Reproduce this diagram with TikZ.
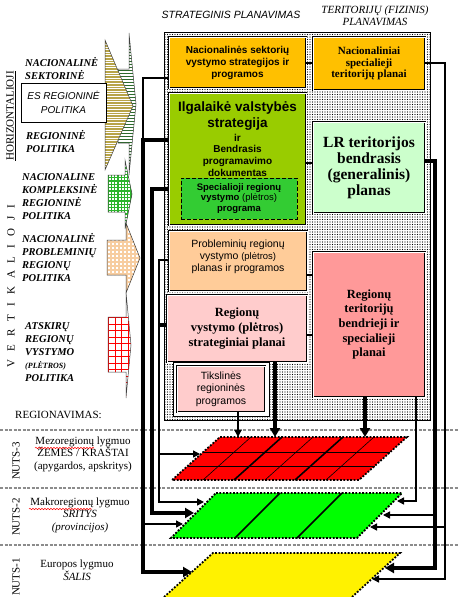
\documentclass[tikz,border=0pt]{standalone}
\usepackage{fontspec}
\setmainfont{Liberation Serif}
\setsansfont{Liberation Sans}
\usetikzlibrary{arrows.meta,patterns.meta,decorations.pathmorphing}
\definecolor{cgold}{HTML}{FFC000}
\definecolor{cygreen}{HTML}{99CC00}
\definecolor{csgreen}{HTML}{33CC33}
\definecolor{clgreen}{HTML}{CCFFCC}
\definecolor{cpeach}{HTML}{FFCC99}
\definecolor{cpink}{HTML}{FFCCCC}
\definecolor{csalmon}{HTML}{FF9999}
\definecolor{ckhaki}{HTML}{B8A448}
\definecolor{cstripe}{HTML}{2E6B2E}
\definecolor{cgrid}{HTML}{2DB42D}
\definecolor{cpgrid}{HTML}{F7CDA0}
\definecolor{csep}{HTML}{8C8C8C}
\tikzset{
  dbox/.style={draw=black, line width=0.9pt, double=white, double distance=0.9pt, align=center, inner sep=1pt},
  thickl/.style={line width=3.2pt},
  thinl/.style={line width=1.4pt},
  midl/.style={line width=2pt},
  thickc/.style={line width=3.2pt, -{Triangle[length=9pt,width=10pt]}},
  thinc/.style={line width=1.4pt, -{Triangle[length=7pt,width=7pt]}},
  barrow/.style={draw=black!75, line width=0.5pt},
  pborder/.style={draw=black, line width=1.8pt, dash pattern=on 1.8pt off 1.6pt},
  sepline/.style={draw=csep, line width=2pt, dash pattern=on 3pt off 1.5pt},
  lab/.style={font=\bfseries\itshape\fontsize{10.5}{13}\selectfont, align=left, inner sep=0pt, anchor=west},
  lvl/.style={font=\fontsize{11}{12.5}\selectfont, align=center, inner sep=0pt},
  rot/.style={font=\fontsize{11}{13}\selectfont, rotate=90, inner sep=0pt},
  wavy/.style={draw=red, line width=0.5pt, decorate, decoration={snake, amplitude=0.7pt, segment length=3pt}}
}
\begin{document}
\begin{tikzpicture}[x=1pt,y=-1pt]
\clip (0,0) rectangle (458,597);
\fill[white] (0,0) rectangle (458,597);

% titles
\node[font=\sffamily\itshape\fontsize{10.5}{12}\selectfont] (t1) at (231,15) {STRATEGINIS PLANAVIMAS};
\node[font=\itshape\fontsize{11}{12}\selectfont, align=center] (t2) at (375,16) {TERITORIJŲ (FIZINIS)\\PLANAVIMAS};

% dotted background
\draw[line width=0.6pt, pattern={Dots[distance=2.5pt,radius=0.7pt]}] (164,32) rectangle (430,420);

% separators
\draw[sepline] (0,430) -- (458,430);
\draw[sepline] (0,488) -- (458,488);
\draw[sepline] (0,545) -- (458,545);

% ---- left block arrows (patterns drawn by hand)
% green striped arrow
\begin{scope}
  \clip (118,69) -- (129,69) -- (129,33) -- (136,104) -- (129,175) -- (129,143) -- (118,143) -- cycle;
  \fill[white] (110,30) rectangle (140,180);
  \foreach \y in {34,37,...,176} \draw[cstripe, line width=1pt] (110,\y) -- (140,\y);
\end{scope}
\draw[barrow] (118,69) -- (129,69) -- (129,33) -- (136,104) -- (129,175) -- (129,143) -- (118,143) -- cycle;
% khaki triangle
\begin{scope}
  \clip (105,40) -- (133,106) -- (105,170) -- cycle;
  \fill[white] (100,35) rectangle (140,175);
  \foreach \y in {40.5,43.1,...,171} \draw[ckhaki, line width=1.6pt] (100,\y) -- (140,\y);
\end{scope}
\draw[barrow] (105,40) -- (133,106) -- (105,170) -- cycle;
% green grid arrow
\begin{scope}
  \clip (108,175) -- (125,175) -- (125,160) -- (132,194) -- (125,229) -- (125,212) -- (108,212) -- cycle;
  \fill[white] (100,155) rectangle (140,235);
  \foreach \y in {158,161.3,...,232} \draw[cgrid, line width=1.3pt] (100,\y) -- (140,\y);
  \foreach \x in {108,111.3,...,134} \draw[cgrid, line width=1.3pt] (\x,155) -- (\x,235);
\end{scope}
\draw[barrow] (108,175) -- (125,175) -- (125,160) -- (132,194) -- (125,229) -- (125,212) -- (108,212) -- cycle;
% peach grid arrow
\begin{scope}
  \clip (107,240) -- (126,240) -- (126,223) -- (140,258) -- (126,293) -- (126,275) -- (107,275) -- cycle;
  \fill[white] (100,220) rectangle (145,296);
  \foreach \y in {222,226,...,296} \draw[cpgrid, line width=1.2pt] (100,\y) -- (145,\y);
  \foreach \x in {107,111,...,143} \draw[cpgrid, line width=1.2pt] (\x,220) -- (\x,296);
\end{scope}
\draw[barrow] (107,240) -- (126,240) -- (126,223) -- (140,258) -- (126,293) -- (126,275) -- (107,275) -- cycle;
% red grid arrow
\begin{scope}
  \clip (108,317) -- (126,317) -- (126,292) -- (131,345) -- (126,398) -- (126,372) -- (108,372) -- cycle;
  \fill[white] (100,290) rectangle (135,400);
  \foreach \y in {317.5,324,...,400} \draw[red, line width=0.8pt] (100,\y) -- (135,\y);
  \foreach \x in {108.5,115,...,135} \draw[red, line width=0.8pt] (\x,290) -- (\x,400);
\end{scope}
\draw[barrow] (108,317) -- (126,317) -- (126,292) -- (131,345) -- (126,398) -- (126,372) -- (108,372) -- cycle;

% left labels
\node[rot] (hor) at (11,116) {\underline{HORIZONTALIOJI}};
\node[rot] (ver) at (11,286) {V\hspace{8pt}E\hspace{8pt}R\hspace{8pt}T\hspace{8pt}I\hspace{8pt}K\hspace{8pt}A\hspace{8pt}L\hspace{8pt}I\hspace{8pt}O\hspace{8pt}J\hspace{8pt}I};
\node[lab] (l1) at (25,68) {NACIONALINĖ\\SEKTORINĖ};
\node[draw=black, line width=0.6pt, fill=white, minimum width=85pt, minimum height=39pt, align=center, font=\sffamily\itshape\fontsize{10}{14}\selectfont] (es) at (63.5,102.5) {ES REGIONINĖ\\POLITIKA};
\node[lab] (l2) at (26,141) {REGIONINĖ\\POLITIKA};
\node[lab] (l3) at (22,197) {NACIONALINE\\KOMPLEKSINĖ\\REGIONINĖ\\POLITIKA};
\node[lab] (l4) at (22,257) {NACIONALINĖ\\PROBLEMINIŲ\\REGIONŲ\\POLITIKA};
\node[lab] (l5) at (25,352) {ATSKIRŲ\\REGIONŲ\\VYSTYMO\\{\fontsize{8}{12.5}\selectfont(PLĖTROS)}\\POLITIKA};

\node[lvl, anchor=west] (regv) at (15,415) {REGIONAVIMAS:};

% NUTS labels
\node[rot] (n3) at (16,461) {NUTS-3};
\node[rot] (n2) at (16,517) {NUTS-2};
\node[rot] (n1) at (16,577) {NUTS-1};
\node[lvl] (m3) at (83,454) {Mezoregionų lygmuo\\ŽEMĖS / KRAŠTAI\\(apygardos, apskritys)};
\node[lvl] (m2) at (80,515) {Makroregionų lygmuo\\\textit{SRITYS}\\\textit{(provincijos)}};
\node[lvl] (m1) at (77,570) {Europos lygmuo\\\textit{ŠALIS}};
\draw[wavy] (35,448) -- (94,448);
\draw[wavy] (29,509) -- (92,509);

% strategic boxes
\node[dbox, fill=cgold, minimum width=137pt, minimum height=51pt, font=\sffamily\bfseries\fontsize{10}{12}\selectfont] (natsek) at (237.5,62.5) {Nacionalinės sektorių\\vystymo strategijos ir\\programos};
\node[dbox, fill=cygreen, minimum width=137pt, minimum height=132pt] (ilg) at (237.5,159) {};
\node[font=\sffamily\bfseries\fontsize{13.5}{16}\selectfont, align=center, inner sep=0pt] (ilgt1) at (237.5,116) {Ilgalaikė valstybės\\strategija};
\node[font=\sffamily\bfseries\fontsize{10}{11.7}\selectfont, align=center, inner sep=0pt] (ilgt2) at (237.5,155) {ir\\Bendrasis\\programavimo\\dokumentas};
\node[draw=black, line width=1pt, dash pattern=on 4pt off 2pt, fill=csgreen, minimum width=116pt, minimum height=41pt, align=center, inner sep=1pt, font=\sffamily\bfseries\fontsize{9.5}{10.5}\selectfont] (spec) at (239,198.5) {Specialioji regionų\\vystymo {\mdseries (plėtros)}\\programa};
\node[dbox, fill=cpeach, minimum width=138pt, minimum height=60pt] (prob) at (238,261) {};
\node[font=\sffamily\fontsize{10.5}{12}\selectfont, align=center, inner sep=0pt] (probt) at (238,257) {Probleminių regionų\\vystymo {\fontsize{9.5}{12}\selectfont (plėtros)}\\planas ir programos};
\node[dbox, fill=cpink, minimum width=140pt, minimum height=67pt, font=\bfseries\fontsize{12.5}{15}\selectfont] (regvys) at (237,328.5) {Regionų\\vystymo (plėtros)\\strateginiai planai};
\node[draw=black, line width=0.6pt, fill=white, minimum width=96pt, minimum height=54pt] (tfr) at (221,389) {};
\node[dbox, fill=cpink, minimum width=88pt, minimum height=46pt, font=\sffamily\fontsize{10.5}{12.5}\selectfont] (tiksl) at (221,389) {Tikslinės\\regioninės\\programos};

% territorial boxes
\node[dbox, fill=cgold, minimum width=112pt, minimum height=53pt, font=\bfseries\fontsize{11}{11.5}\selectfont] (natspec) at (369,63.5) {Nacionaliniai\\specialieji\\teritorijų planai};
\node[dbox, fill=clgreen, minimum width=112pt, minimum height=91pt, font=\bfseries\fontsize{15.5}{16}\selectfont] (lr) at (369,167.5) {LR teritorijos\\bendrasis\\(generalinis)\\planas};
\node[dbox, fill=csalmon, minimum width=112pt, minimum height=145pt, font=\bfseries\fontsize{12.5}{14.7}\selectfont] (regter) at (369,324.5) {Regionų\\teritorijų\\bendrieji ir\\specialieji\\planai};

% parallelograms
\fill[red] (220,437) -- (407,437) -- (359,480) -- (172,480) -- cycle;
\draw[line width=0.6pt] (203.3,452) -- (390.3,452) (187.6,466) -- (374.6,466);
\foreach \x in {251,313,374} \draw[line width=0.6pt] (\x,437) -- (\x-48,480);
\foreach \x in {282,343} \draw[line width=1.6pt] (\x,437) -- (\x-48,480);
\draw[pborder] (220,437) -- (407,437) -- (359,480) -- (172,480) -- cycle;

\fill[green] (216,493) -- (402,493) -- (357,538) -- (171,538) -- cycle;
\draw[line width=1.6pt] (280,493) -- (235,538) (342,493) -- (297,538);
\draw[pborder] (216,493) -- (402,493) -- (357,538) -- (171,538) -- cycle;

\fill[yellow] (213,553) -- (400,553) -- (352,597) -- (164,597) -- cycle;
\draw[pborder] (164,597) -- (213,553) -- (400,553) -- (352,597);

% arrow tip coordinates
\coordinate (rL) at (200,454);
\coordinate (gL1) at (204,502);
\coordinate (gL2) at (194,513);
\coordinate (gL3) at (183,524);
\coordinate (yL) at (192,572);
\coordinate (gR1) at (397,501);
\coordinate (gR2) at (383,515);
\coordinate (gR3) at (370,527);
\coordinate (yR1) at (385,568);
\coordinate (yR2) at (372,579);
\coordinate (rT1) at (238,437);
\coordinate (rT2) at (275,437);
\coordinate (rT3) at (365,437);

% horizontal links between columns
\draw[thinl] (natsek.east |- 0,63) -- (natspec.west |- 0,63);
\draw[midl] (ilg.east |- 0,163) -- (lr.west |- 0,163);
\draw[midl] (prob.east |- 0,275) -- (regter.west |- 0,275);
\draw[midl] (regvys.east |- 0,335) -- (regter.west |- 0,335);

% left buses
\draw[thinl] (natsek.west |- 0,78) -- (143,78) -- (143,141);
\draw[thickc] (ilg.west |- 0,140) -- (143,140) -- (143,572) -- (yL);
\draw[thinc] (143,524) -- (gL3);
\draw[thickc] (ilg.west |- 0,189) -- (152,189) -- (152,513) -- (gL2);
\draw[thinc] (prob.west |- 0,260) -- (159,260) -- (159,502) -- (gL1);
\draw[thinc] (159,454) -- (rL);
\draw[thickl] (regvys.west |- 0,325) -- (159,325);

% right buses
\draw[thinc] (natspec.east |- 0,63) -- (445,63) -- (445,579) -- (yR2);
\draw[thinc] (445,527) -- (gR3);
\draw[thickc] (lr.east |- 0,161) -- (435,161) -- (435,568) -- (yR1);
\draw[thinc] (435,515) -- (gR2);
\draw[thinc] (regter.south -| 416,0) -- (416,501) -- (gR1);

% down arrows to red
\draw[thickc] (regter.south -| rT3) -- (rT3);
\draw[thickc] (regvys.south -| rT2) -- (rT2);
\draw[thinc] (tiksl.south -| rT1) -- (rT1);
\end{tikzpicture}
\end{document}
